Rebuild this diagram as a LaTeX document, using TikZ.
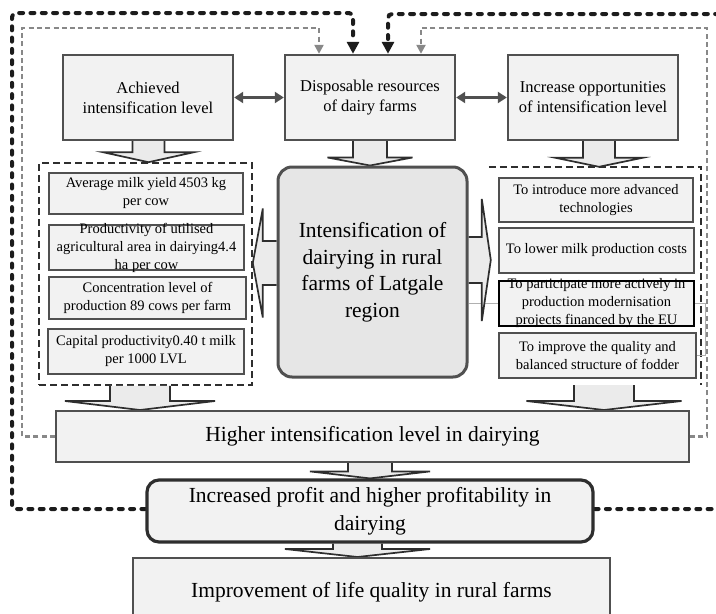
\documentclass[tikz,border=0pt]{standalone}
\usepackage{fontspec}
\setmainfont{Liberation Serif}
\usetikzlibrary{arrows.meta,calc,backgrounds}
\definecolor{boxfill}{HTML}{F2F2F2}
\definecolor{cenfill}{HTML}{E6E6E6}
\definecolor{arrfill}{HTML}{EBEBEB}
\definecolor{boxline}{HTML}{505050}
\definecolor{darkline}{HTML}{2E2E2E}
\definecolor{loopgray}{HTML}{888888}
\definecolor{loopblack}{HTML}{1C1C1C}
\definecolor{linkgray}{HTML}{B0B0B0}

% down block arrow: #1 source point, #2 target point, #3 x centre, #4 half shaft, #5 half head, #6 head depth
\newcommand\blkdown[6]{%
  \draw[blockarrow] let \p1=(#1), \p2=(#2) in
    ({(#3-#4)*1pt},\y1) -- ({(#3-#4)*1pt},{\y2+(#6)*1pt})
    -- ({(#3-#5)*1pt},{\y2+(#6)*1pt}) -- ({(#3)*1pt},\y2)
    -- ({(#3+#5)*1pt},{\y2+(#6)*1pt}) -- ({(#3+#4)*1pt},{\y2+(#6)*1pt})
    -- ({(#3+#4)*1pt},\y1);}
% side block arrow: #3 y centre (visual), #6 signed head depth (positive = pointing right)
\newcommand\blkside[6]{%
  \draw[blockarrow] let \p1=(#1), \p2=(#2) in
    (\x1,{(-(#3)+(#4))*1pt}) -- ({\x2-(#6)*1pt},{(-(#3)+(#4))*1pt})
    -- ({\x2-(#6)*1pt},{(-(#3)+(#5))*1pt}) -- (\x2,{-(#3)*1pt})
    -- ({\x2-(#6)*1pt},{(-(#3)-(#5))*1pt}) -- ({\x2-(#6)*1pt},{(-(#3)-(#4))*1pt})
    -- (\x1,{(-(#3)-(#4))*1pt});}

\begin{document}
\begin{tikzpicture}[x=1pt,y=-1pt,
  box/.style={draw=boxline, fill=boxfill, align=center, inner sep=2pt, text=black},
  topbox/.style={box, line width=2.4pt, minimum width=170pt, minimum height=85pt, font=\fontsize{16.5}{20}\selectfont},
  smallbox/.style={box, line width=1.5pt, font=\fontsize{14.5}{18}\selectfont},
  smalltext/.style={align=center, font=\fontsize{14.5}{18}\selectfont, inner sep=0pt, text=black},
  bigbox/.style={box, line width=2pt, font=\fontsize{21.5}{28}\selectfont},
  blockarrow/.style={draw=darkline, fill=arrfill, line width=1.7pt},
  dblarrow/.style={draw=boxline, line width=2.8pt, {Triangle[length=9pt,width=11pt]}-{Triangle[length=9pt,width=11pt]}},
  blackloop/.style={draw=loopblack, line width=4pt, line cap=round, rounded corners=4pt, dash pattern=on 4pt off 7.3pt, -{Triangle[length=12pt,width=12pt]}},
  grayloop/.style={draw=loopgray, line width=2.6pt, dash pattern=on 5pt off 3.3pt, -{Triangle[length=9pt,width=9pt]}},
  grpframe/.style={draw=darkline, line width=1.6pt, dash pattern=on 7pt off 4pt},
  thinlink/.style={draw=linkgray, line width=0.8pt}
]
\useasboundingbox (0,0) rectangle (716,614);
\clip (0,0) rectangle (716,614);

% top row
\node[topbox] (ach) at (148,97.5) {Achieved\\intensification level};
\node[topbox] (disp) at (370,97.5) {Disposable resources\\of dairy farms};
\node[topbox] (incr) at (593,97.5) {Increase opportunities\\of intensification level};

% central
\node[box, fill=cenfill, line width=3pt, rounded corners=14pt, minimum width=189pt, minimum height=210pt,
  font=\fontsize{21.5}{26.5}\selectfont] (cen) at (372.5,272) {Intensification of\\dairying in rural\\farms of Latgale\\region};

% left boxes
\node[smallbox, minimum width=194pt, minimum height=41pt] (l1) at (146,193.5) {Average milk yield\,4503 kg\\per cow};
\node[smallbox, minimum width=195pt, minimum height=45pt] (l2) at (146.5,247.5) {};
\node[smalltext] (l2t) at (l2) {Productivity of utilised\\agricultural area in dairying4.4\\ha per cow};
\node[smallbox, minimum width=197pt, minimum height=42pt] (l3) at (147.5,298) {Concentration level of\\production 89 cows per farm};
\node[smallbox, minimum width=196pt, minimum height=45pt] (l4) at (146,351.5) {Capital productivity0.40 t milk\\per 1000 LVL};

% right boxes
\node[smallbox, minimum width=194pt, minimum height=44pt] (r1) at (596,200) {To introduce more advanced\\technologies};
\node[smallbox, minimum width=195pt, minimum height=45pt] (r2) at (596.5,250.5) {To lower milk production costs};
\node[smallbox, draw=black, line width=1.7pt, minimum width=195pt, minimum height=45pt] (r3) at (596.5,303.5) {};
\node[smalltext] (r3t) at (r3) {To participate more actively in\\production modernisation\\projects financed by the EU};
\node[smallbox, minimum width=197pt, minimum height=45pt] (r4) at (597.5,355.5) {To improve the quality and\\balanced structure of fodder};

% bottom
\node[bigbox, minimum width=633pt, minimum height=51pt] (hig) at (372.5,436.5) {Higher intensification level in dairying};
\node[bigbox, draw=darkline, line width=3.2pt, rounded corners=12pt, minimum width=446pt, minimum height=62pt] (inc) at (370,511) {Increased profit and higher profitability in\\dairying};
\node[bigbox, draw=boxline, minimum width=477pt, minimum height=68pt] (imp) at (371.5,592) {Improvement of life quality in rural farms};

% double arrows
\draw[dblarrow] (ach.east) -- (disp.west);
\draw[dblarrow] (disp.east) -- (incr.west);

\begin{pgfonlayer}{background}
\fill[white] (0,0) rectangle (716,614);
% groups
\node[grpframe, minimum width=213pt, minimum height=222pt, inner sep=0pt] (lg) at (145.5,274) {};
\node[minimum width=210pt, minimum height=218pt, inner sep=0pt] (rg) at (596,276) {};
\draw[grpframe] ([xshift=-2pt]rg.north west) -- (rg.north east) -- (rg.south east);

% feedback loops
\draw[blackloop] ([yshift=2pt]inc.west) -- (12,509) -- (12,13) -- (353,13) -- (353,0 |- disp.north);
\draw[blackloop] ([yshift=2pt]inc.east) -- (722,509) -- (722,14) -- (388,14) -- (388,0 |- disp.north);
\draw[grayloop] (hig.west) -- (22,436.5) -- (22,28) -- (319,28) -- (319,0 |- disp.north);
\draw[grayloop] (hig.east) -- (707,436.5) -- (707,28) -- (421,28) -- (421,0 |- disp.north);

% thin links
\draw[thinlink] (cen.east |- r3.west) -- (r3.west);
\draw[thinlink] (r3.east) -- (705,303.5) -- (705,355.5) -- (r4.east);

% block arrows
\blkdown{ach.south}{lg.north}{148.5}{16}{45.5}{10}
\blkdown{disp.south}{cen.north}{370}{17}{42.5}{8}
\blkdown{incr.south}{rg.north}{599}{16}{43.5}{9}
\blkside{cen.west}{lg.east}{263}{22}{54.5}{-10}
\blkside{cen.east}{rg.west}{260}{23}{61}{9}
\blkdown{lg.south}{hig.north}{140}{30}{75}{9}
\blkdown{rg.south}{hig.north}{604}{30}{77.5}{9}
\blkdown{hig.south}{inc.north}{370}{22}{60}{7}
\blkdown{inc.south}{imp.north}{357.5}{24.5}{72.5}{8}
\end{pgfonlayer}
\end{tikzpicture}
\end{document}
